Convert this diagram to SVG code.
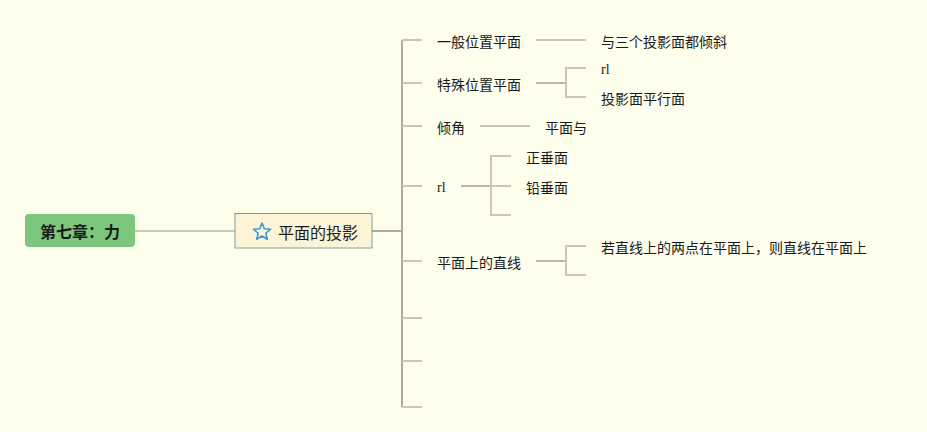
<svg xmlns="http://www.w3.org/2000/svg" width="927" height="432" viewBox="0 0 927 432">
<style>
.t{font-family:"Noto Sans CJK SC","Liberation Sans",sans-serif;font-size:14px;fill:#1a1a1a;dominant-baseline:central}
.s{font-family:"Liberation Serif",serif;font-size:14px;fill:#1a1a1a;dominant-baseline:central}
.c{fill:none;stroke-width:2}
.m{stroke:#aeac96}
.k{stroke:#cac8b2}
.b{stroke:#bcbaa4}
</style>
<rect width="927" height="432" fill="#fefeec"/>
<g id="connectors">
<line class="c" x1="135" y1="231" x2="235" y2="231" stroke="#c6cbb2"/>
<line class="c m" x1="372" y1="231" x2="402" y2="231"/>
<path class="c m" d="M402 40V407"/>
<path class="c k" d="M402 40H422M402 83H422M402 126H422M402 186H422M402 261H422M402 318H422M402 361H422M402 407H422"/>
<line class="c k" x1="536" y1="40" x2="586" y2="40"/>
<line class="c b" x1="536" y1="83" x2="566" y2="83"/>
<path class="c k" d="M586 68H566V97H586"/>
<line class="c k" x1="480" y1="126" x2="530" y2="126"/>
<line class="c b" x1="461" y1="186" x2="491" y2="186"/>
<path class="c k" d="M511 156H491V215H511M491 186H511"/>
<line class="c b" x1="536" y1="261" x2="566" y2="261"/>
<path class="c k" d="M586 246H566V275H586"/>
</g>
<g id="root">
<rect x="25" y="214" width="110" height="33" rx="4" fill="#7dc67e"/>
<text x="80" y="231" text-anchor="middle" font-family="'Noto Sans CJK SC','Liberation Sans',sans-serif" font-size="16" font-weight="bold" fill="#1a1a1a" dominant-baseline="central">第七章：力</text>
</g>
<g id="central">
<rect x="235" y="213.5" width="137" height="34.5" fill="#fdf3d5" stroke="#7f9ca0" stroke-width="1"/>
<path d="M262 223L264.35 228.76L270.56 229.22L265.8 233.24L267.29 239.28L262 236L256.71 239.28L258.2 233.24L253.44 229.22L259.65 228.76Z" fill="none" stroke="#3a9ad9" stroke-width="1.6" stroke-linejoin="round"/>
<text x="278" y="232" font-family="'Noto Sans CJK SC','Liberation Sans',sans-serif" font-size="16" fill="#1a1a1a" dominant-baseline="central">平面的投影</text>
</g>
<g id="n1"><text class="t" x="437" y="41">一般位置平面</text></g>
<g id="n1a"><text class="t" x="601" y="41">与三个投影面都倾斜</text></g>
<g id="n2"><text class="t" x="437" y="84">特殊位置平面</text></g>
<g id="n2a"><text class="s" x="601" y="69">rl</text></g>
<g id="n2b"><text class="t" x="601" y="98">投影面平行面</text></g>
<g id="n3"><text class="t" x="437" y="127">倾角</text></g>
<g id="n3a"><text class="t" x="545" y="127">平面与</text></g>
<g id="n4"><text class="s" x="437" y="187">rl</text></g>
<g id="n4a"><text class="t" x="526" y="157">正垂面</text></g>
<g id="n4b"><text class="t" x="526" y="187">铅垂面</text></g>
<g id="n5"><text class="t" x="437" y="262">平面上的直线</text></g>
<g id="n5a"><text class="t" x="601" y="247">若直线上的两点在平面上，则直线在平面上</text></g>
</svg>
